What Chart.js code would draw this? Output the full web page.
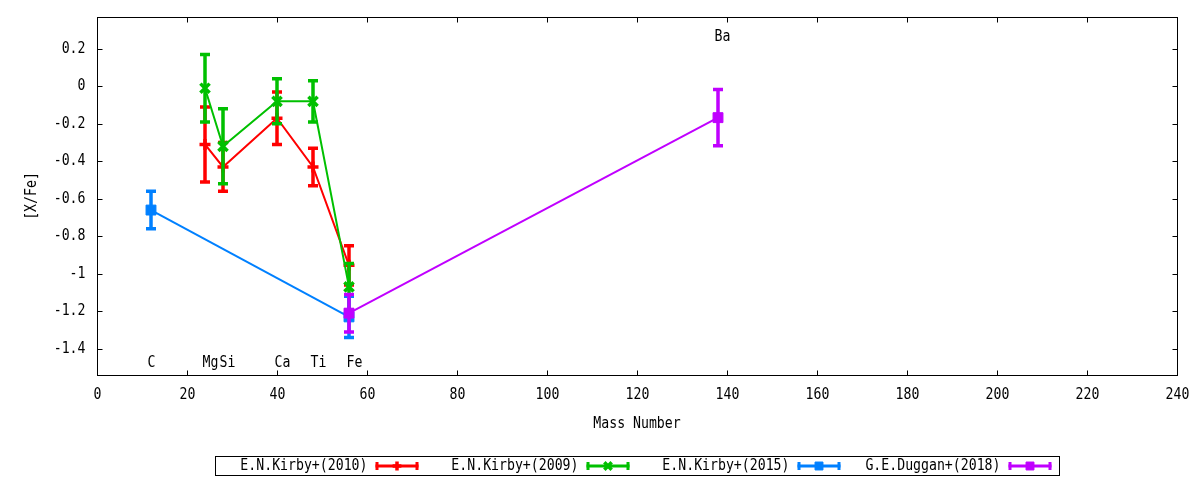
<!DOCTYPE html>
<html>
<head>
<meta charset="utf-8">
<script src="https://cdn.jsdelivr.net/npm/chart.js@4"></script>
<style>
  body { margin: 0; background: #fff; }
  canvas { display: block; }
</style>
</head>
<body>
<canvas id="abundChart" width="1200" height="480"></canvas>
<script>
// values
var massKirby = [24, 28, 40, 48, 56];
var kirby2010 = [-0.31, -0.43, -0.17, -0.43, -0.955];
var kirby2010Err = [0.20, 0.13, 0.14, 0.10, 0.105];
var kirby2009 = [-0.01, -0.32, -0.08, -0.08, -1.07];
var kirby2009Err = [0.18, 0.20, 0.12, 0.11, 0.125];
var massKirby2015 = [12, 56];
var kirby2015 = [-0.66, -1.23];
var kirby2015Err = [0.10, 0.11];
var massDuggan = [56, 138];
var duggan2018 = [-1.21, -0.167];
var duggan2018Err = [0.10, 0.15];

var elements = ['C', 'Mg', 'Si', 'Ca', 'Ti', 'Fe', 'Ba'];
var elementX = [12.1, 25.2, 29.0, 41.2, 49.2, 57.2, 139.0];
var elementY = [-1.475, -1.475, -1.475, -1.475, -1.475, -1.475, 0.262];

var xTitle = 'Mass Number';
var yTitle = '[X/Fe]';

function pts(xs, ys) {
    return xs.map(function (x, i) { return {x: x, y: ys[i]}; });
}

// tall, narrow monospace like the gnuplot terminal font
var FONT = '15px "DejaVu Sans Mono"';
var SX = 0.88;

function text(ctx, s, x, y, align, rot) {
    ctx.save();
    ctx.translate(x, y);
    if (rot) ctx.rotate(rot);
    ctx.scale(SX, 1);
    ctx.font = FONT;
    ctx.textAlign = align;
    ctx.textBaseline = 'middle';
    ctx.fillText(s, 0, 0);
    ctx.restore();
}

function fmt(v) { return String(Math.round(v * 10) / 10); }

// error bars drawn under each dataset's own line and markers
var errorBars = {
    id: 'errorBars',
    beforeDatasetDraw: function (chart, args) {
        var ds = chart.data.datasets[args.index];
        var y = chart.scales.y;
        var ctx = chart.ctx;
        ctx.save();
        ctx.strokeStyle = ds.borderColor;
        ctx.lineWidth = 3.5;
        args.meta.data.forEach(function (p, i) {
            var v = ds.data[i].y, e = ds.errors[i];
            var top = y.getPixelForValue(v + e), bot = y.getPixelForValue(v - e);
            ctx.beginPath();
            ctx.moveTo(p.x, top); ctx.lineTo(p.x, bot);
            ctx.moveTo(p.x - 5, top); ctx.lineTo(p.x + 5, top);
            ctx.moveTo(p.x - 5, bot); ctx.lineTo(p.x + 5, bot);
            ctx.stroke();
        });
        ctx.restore();
    }
};

// gnuplot-like frame, inward ticks, labels and legend
var frame = {
    id: 'frame',
    beforeDatasetsDraw: function (chart) {
        var ctx = chart.ctx, a = chart.chartArea;
        var xs = chart.scales.x, ys = chart.scales.y;
        var L = Math.round(a.left) + 0.5, R = Math.round(a.right) + 0.5;
        var T = Math.round(a.top) + 0.5, B = Math.round(a.bottom) + 0.5;
        ctx.save();
        ctx.strokeStyle = '#000';
        ctx.fillStyle = '#000';
        ctx.lineWidth = 1;
        ctx.strokeRect(L, T, R - L, B - T);
        ctx.beginPath();
        xs.ticks.forEach(function (t) {
            var px = Math.round(xs.getPixelForValue(t.value)) + 0.5;
            ctx.moveTo(px, B); ctx.lineTo(px, B - 5);
            ctx.moveTo(px, T); ctx.lineTo(px, T + 5);
            text(ctx, fmt(t.value), px, B + 20, 'center');
        });
        ys.ticks.forEach(function (t) {
            var py = Math.round(ys.getPixelForValue(t.value)) + 0.5;
            ctx.moveTo(L, py); ctx.lineTo(L + 5, py);
            ctx.moveTo(R, py); ctx.lineTo(R - 5, py);
            text(ctx, fmt(t.value), L - 12, py, 'right');
        });
        ctx.stroke();

        elements.forEach(function (el, i) {
            text(ctx, el, xs.getPixelForValue(elementX[i]), ys.getPixelForValue(elementY[i]), 'center');
        });
        ctx.restore();
    },
    afterDraw: function (chart) {
        var ctx = chart.ctx, a = chart.chartArea;
        ctx.save();
        ctx.fillStyle = '#000';
        text(ctx, xTitle, (a.left + a.right) / 2, 424, 'center');
        text(ctx, yTitle, 32, (a.top + a.bottom) / 2, 'center', -Math.PI / 2);

        // legend
        var dsets = chart.data.datasets;
        var entryW = 211;
        var left = Math.round((a.left + a.right) / 2 - entryW * dsets.length / 2) + 0.5;
        var top = 456.5, h = 19, cy = top + h / 2;
        ctx.strokeStyle = '#000';
        ctx.lineWidth = 1;
        ctx.strokeRect(left, top, entryW * dsets.length, h);
        dsets.forEach(function (ds, i) {
            var x0 = left + i * entryW;
            ctx.fillStyle = '#000';
            text(ctx, ds.label, x0 + 152, cy, 'right');
            var s0 = x0 + 160, s1 = x0 + 203;
            ctx.strokeStyle = ds.borderColor;
            ctx.lineWidth = 3;
            ctx.beginPath();
            ctx.moveTo(s0, cy); ctx.lineTo(s1, cy);
            ctx.stroke();
            ctx.lineWidth = 3;
            ctx.beginPath();
            ctx.moveTo(s0 + 1.5, cy - 4); ctx.lineTo(s0 + 1.5, cy + 4);
            ctx.moveTo(s1 - 1.5, cy - 4); ctx.lineTo(s1 - 1.5, cy + 4);
            ctx.stroke();
            ctx.fillStyle = ds.borderColor;
            ctx.lineWidth = ds.pointBorderWidth;
            Chart.helpers.drawPoint(ctx, {
                pointStyle: ds.pointStyle, radius: ds.pointRadius * 0.8,
                rotation: 0, borderWidth: ds.pointBorderWidth
            }, (s0 + s1) / 2, cy);
        });
        ctx.restore();
    }
};

var RED = '#ff0000', GREEN = '#00c000', BLUE = '#0080ff', PURPLE = '#c000ff';

function series(label, xs, ys, errs, color, style, radius, bw, order) {
    return {
        label: label,
        data: pts(xs, ys),
        errors: errs,
        showLine: true,
        borderColor: color,
        backgroundColor: color,
        borderWidth: 2,
        pointStyle: style,
        pointRadius: radius,
        pointBorderWidth: bw,
        pointBackgroundColor: color,
        pointBorderColor: color,
        tension: 0,
        order: order
    };
}

Chart.defaults.font.family = '"DejaVu Sans Mono"';
Chart.defaults.font.size = 13;
Chart.defaults.color = '#000';

var myChart = new Chart(document.getElementById('abundChart'), {
    type: 'scatter',
    data: {
        datasets: [
            series('E.N.Kirby+(2010)', massKirby, kirby2010, kirby2010Err, RED, 'cross', 5.5, 3.5, 4),
            series('E.N.Kirby+(2009)', massKirby, kirby2009, kirby2009Err, GREEN, 'crossRot', 6.5, 3.5, 3),
            series('E.N.Kirby+(2015)', massKirby2015, kirby2015, kirby2015Err, BLUE, 'rect', 7, 1, 2),
            series('G.E.Duggan+(2018)', massDuggan, duggan2018, duggan2018Err, PURPLE, 'rect', 7, 1, 1)
        ]
    },
    options: {
        responsive: false,
        animation: false,
        layout: { padding: { left: 0, right: 23, top: 17, bottom: 0 } },
        plugins: {
            legend: { display: false },
            tooltip: { enabled: false }
        },
        scales: {
            x: {
                type: 'linear',
                min: 0,
                max: 240,
                grid: { display: false, drawTicks: false },
                border: { display: false },
                ticks: { stepSize: 20, display: false },
                afterFit: function (s) { s.height = 105; }
            },
            y: {
                min: -1.54,
                max: 0.37,
                grid: { display: false, drawTicks: false },
                border: { display: false },
                ticks: { stepSize: 0.2, includeBounds: false, display: false },
                afterFit: function (s) { s.width = 97; }
            }
        }
    },
    plugins: [errorBars, frame]
});
</script>
</body>
</html>
